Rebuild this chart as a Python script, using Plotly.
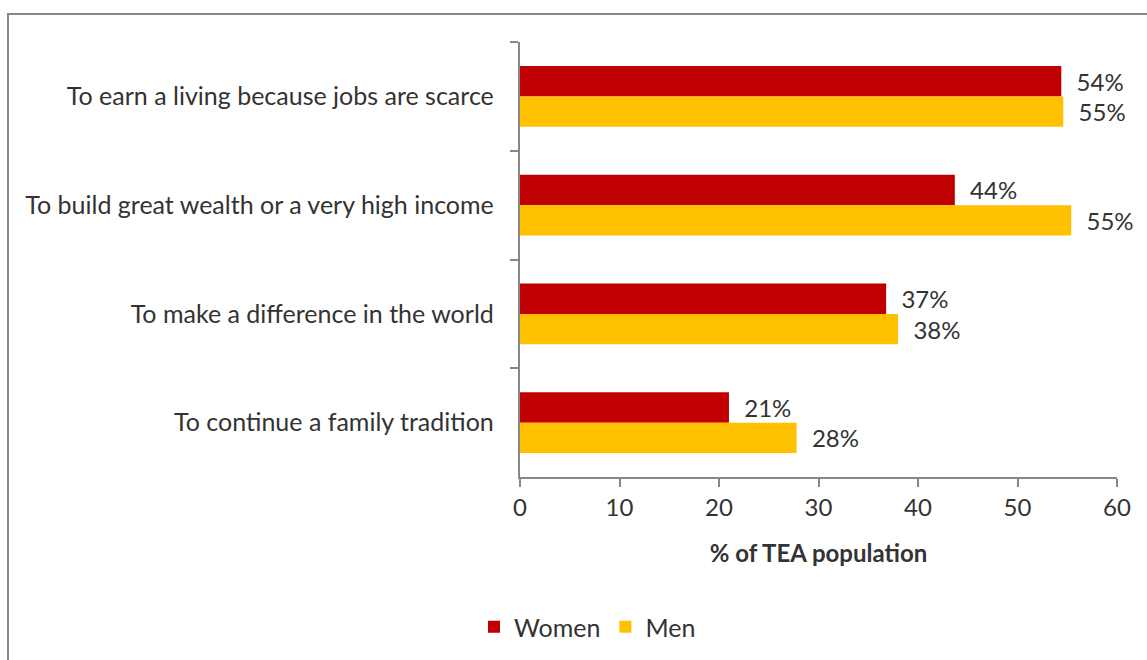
import plotly.graph_objects as go

# Motivations for starting a business, by gender (% of TEA population)
motives = [
    "To earn a living because jobs are scarce",
    "To build great wealth or a very high income",
    "To make a difference in the world",
    "To continue a family tradition",
]
women = [54.4, 43.7, 36.8, 21.0]
men = [54.6, 55.4, 38.0, 27.8]
x_ticks = [0, 10, 20, 30, 40, 50, 60]

W, H = 1147, 660
L, R, T, B = 520, 30, 42, 182
FONT = "Lato, Open Sans, sans-serif"
TEXT = "#333333"
AXIS = "#878787"

fig = go.Figure()
for name, vals, color in [("Women", women, "#C00000"), ("Men", men, "#FFC000")]:
    fig.add_trace(go.Bar(
        name=name, y=motives, x=vals, orientation="h",
        marker=dict(color=color, line=dict(width=0)),
        texttemplate="\u00a0\u00a0%{x:.0f}%", textposition="outside",
        constraintext="none",
        textfont=dict(size=24, color=TEXT, family=FONT),
        cliponaxis=False,
    ))

# outer chart frame (left and top edges)
pw, ph = W - L - R, H - T - B
def px(x): return (x - L) / pw
def py(y): return (H - B - y) / ph
fig.add_shape(type="path", xref="paper", yref="paper",
              path=f"M {px(8)} {py(H+2)} L {px(8)} {py(14)} L {px(W+2)} {py(14)}",
              line=dict(color=AXIS, width=2))

fig.update_layout(
    width=W, height=H,
    margin=dict(l=L, r=R, t=T, b=B),
    paper_bgcolor="white", plot_bgcolor="white",
    barmode="group", bargap=0.44, bargroupgap=0,
    font=dict(family=FONT, color=TEXT, size=24),
    showlegend=True,
    legend=dict(orientation="h", x=px(474), xanchor="left", y=py(627), yanchor="middle",
                font=dict(size=25, color=TEXT), itemwidth=30, traceorder="normal"),
    xaxis=dict(range=[0, 60], tickvals=x_ticks, showgrid=False, zeroline=False,
               showline=True, linecolor=AXIS, linewidth=2,
               ticks="outside", ticklen=8, tickwidth=2, tickcolor=AXIS,
               tickfont=dict(size=24, color=TEXT),
               title=dict(text="<b>% of TEA population</b>", font=dict(size=24, color=TEXT), standoff=25)),
    yaxis=dict(autorange="reversed", showgrid=False, zeroline=False,
               showline=True, linecolor=AXIS, linewidth=2,
               ticks="outside", tickson="boundaries", ticklen=8, tickwidth=2, tickcolor=AXIS,
               tickfont=dict(size=25, color=TEXT), ticksuffix="\u00a0\u00a0\u00a0"),
)

fig.write_html("out.html")
